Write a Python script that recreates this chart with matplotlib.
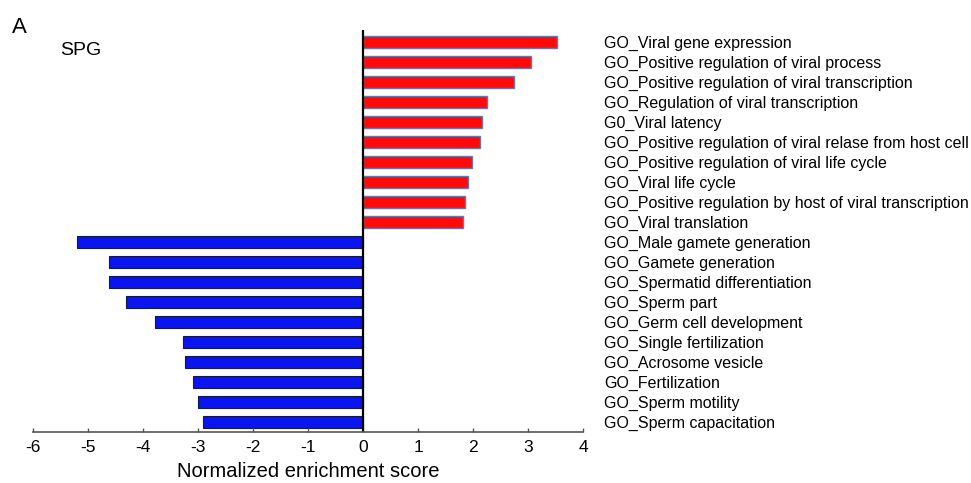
import matplotlib.pyplot as plt
import numpy as np

plt.rcParams['font.family'] = ['Liberation Sans', 'DejaVu Sans']

# GO terms, top to bottom as drawn
terms = [
    "GO_Viral gene expression",
    "GO_Positive regulation of viral process",
    "GO_Positive regulation of viral transcription",
    "GO_Regulation of viral transcription",
    "G0_Viral latency",
    "GO_Positive regulation of viral relase from host cell",
    "GO_Positive regulation of viral life cycle",
    "GO_Viral life cycle",
    "GO_Positive regulation by host of viral transcription",
    "GO_Viral translation",
    "GO_Male gamete generation",
    "GO_Gamete generation",
    "GO_Spermatid differentiation",
    "GO_Sperm part",
    "GO_Germ cell development",
    "GO_Single fertilization",
    "GO_Acrosome vesicle",
    "GO_Fertilization",
    "GO_Sperm motility",
    "GO_Sperm capacitation",
]
nes = [3.52, 3.05, 2.75, 2.25, 2.17, 2.12, 1.98, 1.90, 1.86, 1.81,
       -5.20, -4.61, -4.61, -4.31, -3.78, -3.28, -3.24, -3.09, -3.00, -2.91]
xticks = [-6, -5, -4, -3, -2, -1, 0, 1, 2, 3, 4]

nes = np.array(nes)
ypos = np.arange(len(terms))[::-1]

fig = plt.figure(figsize=(9.71, 4.83), dpi=100)
ax = fig.add_axes([0.034, 0.1056, 0.5665, 0.8323])

pos = nes > 0
ax.barh(ypos[pos], nes[pos], height=0.62, color='#ff0a0a',
        edgecolor='#6a78a8', linewidth=1.0)
ax.barh(ypos[~pos], nes[~pos], height=0.62, color='#0a14f0',
        edgecolor='#101850', linewidth=0.8)

ax.axvline(0, color='black', lw=1.6)
ax.set_xlim(-6, 4)
ax.set_ylim(-0.5, 19.6)
ax.set_xticks(xticks)
ax.set_xticklabels([str(t) for t in xticks], fontsize=12.5)
ax.set_xlabel("Normalized enrichment score", fontsize=14.5, labelpad=5)

ax.yaxis.tick_right()
ax.set_yticks(ypos)
ax.set_yticklabels(terms, fontsize=11.5)
ax.tick_params(axis='y', length=0, pad=15)
ax.tick_params(axis='x', direction='in', length=3, width=1, color='#555555', pad=6)

for s in ['top', 'right', 'left']:
    ax.spines[s].set_visible(False)
ax.spines['bottom'].set_color('#555555')
ax.spines['bottom'].set_linewidth(1.2)

fig.text(0.012, 0.932, "A", fontsize=16)
fig.text(0.062, 0.886, "SPG", fontsize=14)

plt.savefig('out.png', dpi=100)
